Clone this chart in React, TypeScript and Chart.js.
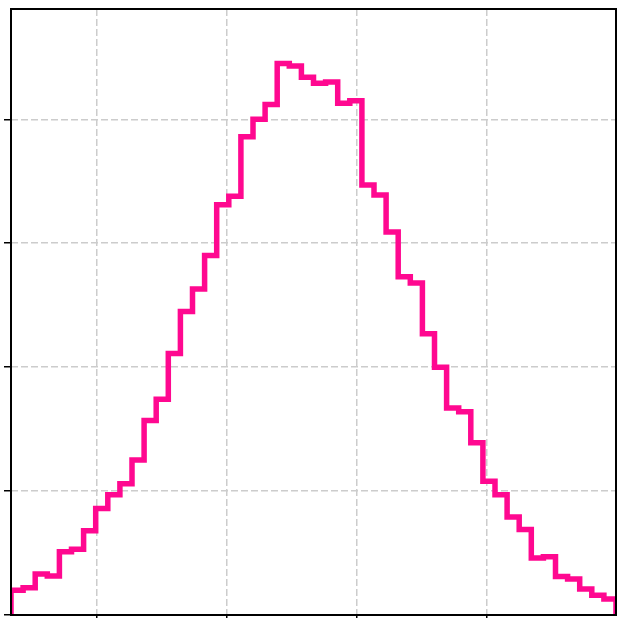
import React, { useEffect, useRef } from "react";
import { Chart, registerables } from "chart.js";

Chart.register(...registerables);

// Histogram bin counts (50 equal-width bins)
const COUNTS: number[] = [
  20, 22, 33, 31.5, 51, 53, 68, 86, 97, 106,
  125, 157, 174, 211, 245, 263, 290, 331, 338, 386,
  400, 412, 445, 443, 434, 429, 430, 413, 415, 347,
  339, 309, 273, 268, 227, 200, 167, 164, 139, 108,
  97, 79, 69, 46, 47, 31, 29, 21, 16, 13,
];
const BIN_START = -0.66;
const BIN_END = 3.99;
const X_TICKS: number[] = [0, 1, 2, 3];
const Y_TICKS: number[] = [0, 100, 200, 300, 400];
const Y_MAX = 489;

const LINE_COLOR = "#ff0890";

export default function App() {
  const ref = useRef<HTMLCanvasElement | null>(null);

  useEffect(() => {
    document.body.style.margin = "0";
    document.documentElement.style.overflow = "hidden";
    const canvas = ref.current;
    if (!canvas) return;

    const n = COUNTS.length;
    const w = (BIN_END - BIN_START) / n;
    const pts: { x: number; y: number }[] = [{ x: BIN_START, y: 0 }];
    COUNTS.forEach((c, i) => {
      pts.push({ x: BIN_START + i * w, y: c });
      pts.push({ x: BIN_START + (i + 1) * w, y: c });
    });
    pts.push({ x: BIN_END, y: 0 });

    const frame = {
      id: "frame",
      afterDatasetsDraw(chart: any) {
        const { ctx, chartArea: a } = chart;
        ctx.save();
        ctx.strokeStyle = "#000";
        ctx.lineWidth = 2;
        ctx.strokeRect(a.left, a.top, a.right - a.left, a.bottom - a.top);
        ctx.restore();
      },
    };

    const chart = new Chart(canvas, {
      type: "line",
      data: {
        datasets: [
          {
            data: pts,
            borderColor: LINE_COLOR,
            borderWidth: 5.5,
            pointRadius: 0,
            fill: false,
            tension: 0,
            clip: 0,
            borderJoinStyle: "miter",
            borderCapStyle: "butt",
          } as any,
        ],
      },
      options: {
        animation: false,
        responsive: false,
        devicePixelRatio: 1,
        layout: { padding: { left: 4, top: 9, right: 5, bottom: 8 } },
        plugins: { legend: { display: false }, tooltip: { enabled: false } },
        scales: {
          x: {
            type: "linear",
            min: BIN_START,
            max: BIN_END,
            afterBuildTicks: (s: any) => {
              s.ticks = X_TICKS.map((v) => ({ value: v }));
            },
            ticks: { display: false },
            border: { display: false, dash: [7, 3] },
            grid: {
              color: "#cccccc",
              lineWidth: 1.5,
              tickColor: "#000",
              tickLength: 7,
              tickWidth: 1.5,
            } as any,
          },
          y: {
            type: "linear",
            min: 0,
            max: Y_MAX,
            afterBuildTicks: (s: any) => {
              s.ticks = Y_TICKS.map((v) => ({ value: v }));
            },
            ticks: { display: false },
            border: { display: false, dash: [7, 3] },
            grid: {
              color: "#cccccc",
              lineWidth: 1.5,
              tickColor: "#000",
              tickLength: 7,
              tickWidth: 1.5,
            } as any,
          },
        },
      },
      plugins: [frame],
    });
    return () => chart.destroy();
  }, []);

  return (
    <div style={{ position: "fixed", left: 0, top: 0, width: 621, height: 618, overflow: "hidden", background: "#fff" }}>
      <canvas ref={ref} width={621} height={630} style={{ width: 621, height: 630, display: "block" }} />
    </div>
  );
}
